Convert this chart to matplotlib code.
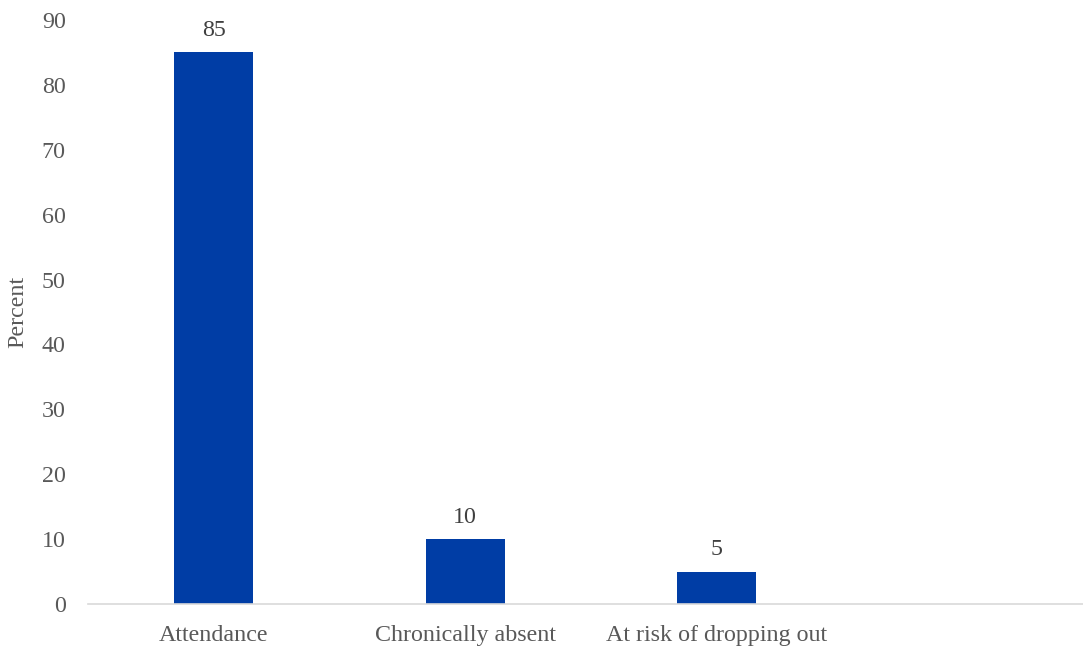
import matplotlib.pyplot as plt

plt.rcParams['font.family'] = ['Liberation Serif', 'DejaVu Serif']

categories = ['Attendance', 'Chronically absent', 'At risk of dropping out']
values = [85, 10, 5]
yticks = [0, 10, 20, 30, 40, 50, 60, 70, 80, 90]

bar_color = '#003DA5'
tick_color = '#595959'
fs = 17.3

fig = plt.figure(figsize=(10.83, 6.47), dpi=100)
ax = fig.add_axes([88 / 1083, 1 - 604 / 647, 1 - 88 / 1083, (604 - 20) / 647])

x = list(range(len(categories)))
bars = ax.bar(x, values, width=0.315, color=bar_color, zorder=2)

for rect, v in zip(bars, values):
    ax.annotate(f'{v}', (rect.get_x() + rect.get_width() / 2, rect.get_height()),
                xytext=(0, 8), textcoords='offset points',
                ha='center', va='bottom', fontsize=fs, color='#404040')

ax.set_xlim(-0.5, (1083 - 213.5) / 251.5)
ax.set_ylim(0, 90)
ax.set_yticks(yticks)
ax.set_xticks(x)
ax.set_xticklabels(categories)

for side in ['top', 'right', 'left']:
    ax.spines[side].set_visible(False)
ax.spines['bottom'].set_color('#D9D9D9')
ax.spines['bottom'].set_linewidth(1.2)

ax.tick_params(axis='y', length=0, pad=16, labelsize=fs, labelcolor=tick_color)
ax.tick_params(axis='x', length=0, pad=15, labelsize=fs, labelcolor=tick_color)

fig.text(18 / 1083, 1 - 312 / 647, 'Percent', rotation=90, ha='center', va='center',
         fontsize=fs, color=tick_color)

fig.savefig('out.png', dpi=100)
